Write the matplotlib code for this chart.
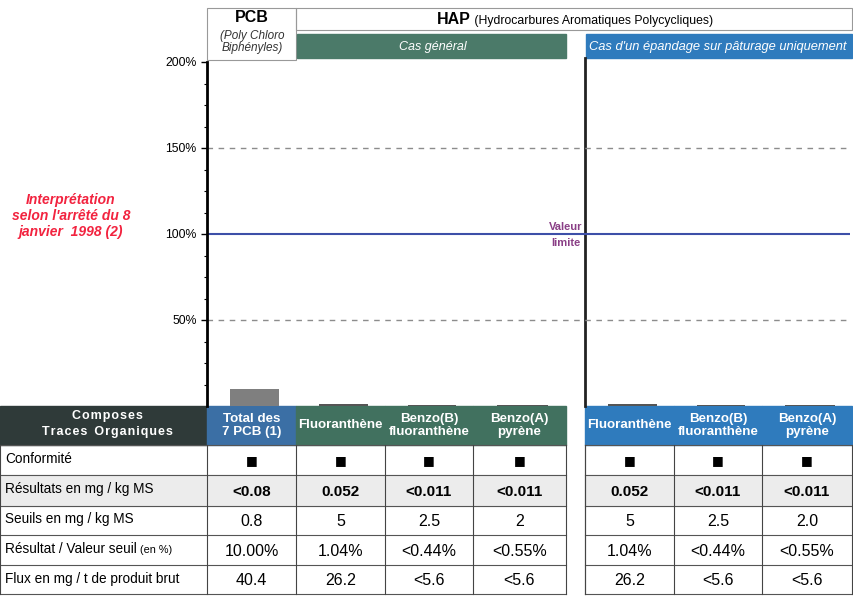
import matplotlib.pyplot as plt
from matplotlib.patches import Rectangle

plt.rcParams['font.family'] = ['Liberation Sans', 'DejaVu Sans']

# data
compounds = ["Total des\n7 PCB (1)", "Fluoranthène", "Benzo(B)\nfluoranthène", "Benzo(A)\npyrène",
             "Fluoranthène", "Benzo(B)\nfluoranthène", "Benzo(A)\npyrène"]
ratio_pct = [10.0, 1.04, 0.44, 0.55, 1.04, 0.44, 0.55]
conformity = ["■"] * 7
results = ["<0.08", "0.052", "<0.011", "<0.011", "0.052", "<0.011", "<0.011"]
thresholds = ["0.8", "5", "2.5", "2", "5", "2.5", "2.0"]
ratio_labels = ["10.00%", "1.04%", "<0.44%", "<0.55%", "1.04%", "<0.44%", "<0.55%"]
flux = ["40.4", "26.2", "<5.6", "<5.6", "26.2", "<5.6", "<5.6"]
row_labels = ["Conformité", "Résultats en mg / kg MS", "Seuils en mg / kg MS",
              "Résultat / Valeur seuil", "Flux en mg / t de produit brut"]
y_ticks = [50, 100, 150, 200]
limit_value = 100

# layout (pixels)
W, H = 854, 598
col_left = [207, 296, 385, 473, 585, 674, 762]
col_right = [296, 385, 473, 566, 674, 762, 852]
row_top = [445, 475, 506, 535, 565]
row_bot = [475, 506, 535, 565, 594]
head_top, head_bot = 406, 445
chart_top = 62

dark = "#2f3a39"
green = "#41715f"
blue_pcb = "#3b6fa5"
blue = "#2f7bbd"
head_colors = [blue_pcb, green, green, green, blue, blue, blue]

fig = plt.figure(figsize=(W / 100, H / 100), dpi=100)
ax0 = fig.add_axes([0, 0, 1, 1])
ax0.set_xlim(0, W)
ax0.set_ylim(H, 0)
ax0.axis("off")

# ---- table ----
hs = "\u200a"
ax0.add_patch(Rectangle((0, head_top), 207, head_bot - head_top, color=dark))
ax0.text(107, 416, hs.join("Composes"), color="white", fontsize=9, weight="bold",
         ha="center", va="center")
ax0.text(107, 432, hs.join("Traces") + "  " + hs.join("Organiques"), color="white", fontsize=9,
         weight="bold", ha="center", va="center")
for i, name in enumerate(compounds):
    x0, x1 = col_left[i], col_right[i]
    ax0.add_patch(Rectangle((x0, head_top), x1 - x0, head_bot - head_top, color=head_colors[i]))
    ax0.text((x0 + x1) / 2, (head_top + head_bot) / 2, name, color="white", fontsize=9.6,
             weight="bold", ha="center", va="center", linespacing=1.05)

# grey background for result row
for xa, xb in [(0, 566), (585, 852)]:
    ax0.add_patch(Rectangle((xa, row_top[1]), xb - xa, row_bot[1] - row_top[1], color="#ececec"))

rows = [conformity, results, thresholds, ratio_labels, flux]
for r, vals in enumerate(rows):
    yc = (row_top[r] + row_bot[r]) / 2
    lab = ax0.text(5, yc - 1, row_labels[r], fontsize=9.8, ha="left", va="center")
    if r == 3:
        ax0.annotate(" (en %)", xy=(1, 0.45), xycoords=lab, fontsize=7.8, ha="left", va="center")
    for i, v in enumerate(vals):
        xc = (col_left[i] + col_right[i]) / 2
        if r == 0:
            ax0.text(xc, yc + 1, v, fontsize=9, ha="center", va="center", family="DejaVu Sans")
        else:
            ax0.text(xc, yc + 1, v, fontsize=11 if r == 1 else 11.5, ha="center", va="center",
                     weight="bold" if r == 1 else "normal")

# grid lines of the table
for xa, xb in [(0, 566), (585, 852)]:
    for y in row_top + [row_bot[-1]]:
        ax0.plot([xa, xb], [y, y], color="#555555", lw=0.8)
    ax0.plot([xa, xa], [head_bot, row_bot[-1]], color="#444444", lw=0.8)
    ax0.plot([xb, xb], [head_bot, row_bot[-1]], color="#444444", lw=0.8)
for x in col_left:
    ax0.plot([x, x], [head_bot, row_bot[-1]], color="#444444", lw=0.8)

# ---- top headers ----
ax0.add_patch(Rectangle((207, 8), 89, 52, fill=False, ec="#999999", lw=0.8))
ax0.add_patch(Rectangle((296, 8), 556, 22, fill=False, ec="#999999", lw=0.8))
ax0.text(252, 18, "PCB", fontsize=11.5, weight="bold", ha="center", va="center")
ax0.text(252, 42, "(Poly Chloro\nBiphényles)", fontsize=8.5, style="italic", ha="center",
         va="center", color="#333333", linespacing=0.95)
hap = ax0.text(437, 20, "HAP", fontsize=11.5, weight="bold", ha="left", va="center")
ax0.annotate(" (Hydrocarbures Aromatiques Polycycliques)", xy=(1, 0.42), xycoords=hap,
             fontsize=8.8, ha="left", va="center")
ax0.add_patch(Rectangle((297, 34), 269, 24, color="#4b7a69"))
ax0.text(433, 47, "Cas général", fontsize=9, style="italic", color="white", ha="center", va="center")
ax0.add_patch(Rectangle((586, 34), 266, 24, color=blue))
ax0.text(589, 47, "Cas d'un épandage sur pâturage uniquement", fontsize=9.3, style="italic",
         color="white", ha="left", va="center", clip_on=True)

# left note
ax0.text(71, 216, "Interprétation\nselon l'arrêté du 8\njanvier  1998 (2)", color="#f2233f",
         fontsize=10, weight="bold", style="italic", ha="center", va="center", linespacing=1.15)

# ---- chart ----
ax = fig.add_axes([207 / W, (H - head_top) / H, (850 - 207) / W, (head_top - chart_top) / H])
ax.patch.set_alpha(0)
ax.set_xlim(207, 850)
ax.set_ylim(0, 200)
centers = [(a + b) / 2 + 3 for a, b in zip(col_left, col_right)]
widths = [0.55 * (b - a) for a, b in zip(col_left, col_right)]
bar_colors = ["#7f7f7f"] + ["#555555"] * 6
ax.bar(centers, ratio_pct, width=widths, color=bar_colors)
for y in [50, 150]:
    ax.axhline(y, color="#8c8c8c", lw=1, ls=(0, (4, 4)))
ax.axhline(limit_value, color="#3d4fa8", lw=1.5)
ax.set_yticks(y_ticks)
ax.set_yticklabels([f"{t}%" for t in y_ticks], fontsize=8.8)
ax.set_yticks([v * 12.5 for v in range(1, 16)], minor=True)
ax.tick_params(axis="y", which="major", length=4, width=1)
ax.tick_params(axis="y", which="minor", length=2, width=0.8)
ax.set_xticks([])
for s in ["top", "right", "bottom"]:
    ax.spines[s].set_visible(False)
ax.spines["left"].set_linewidth(2)
ax.text(566, limit_value + 4, "Valeur", fontsize=8, weight="bold", color="#8a3f86",
        ha="center", va="center")
ax.text(566, limit_value - 5.5, "limite", fontsize=8, weight="bold", color="#8a3f86",
        ha="center", va="center")

# second axis line for the pasture case
ax0.plot([585, 585], [58, head_top], color="#222222", lw=2)

fig.savefig("out.png", dpi=100)
